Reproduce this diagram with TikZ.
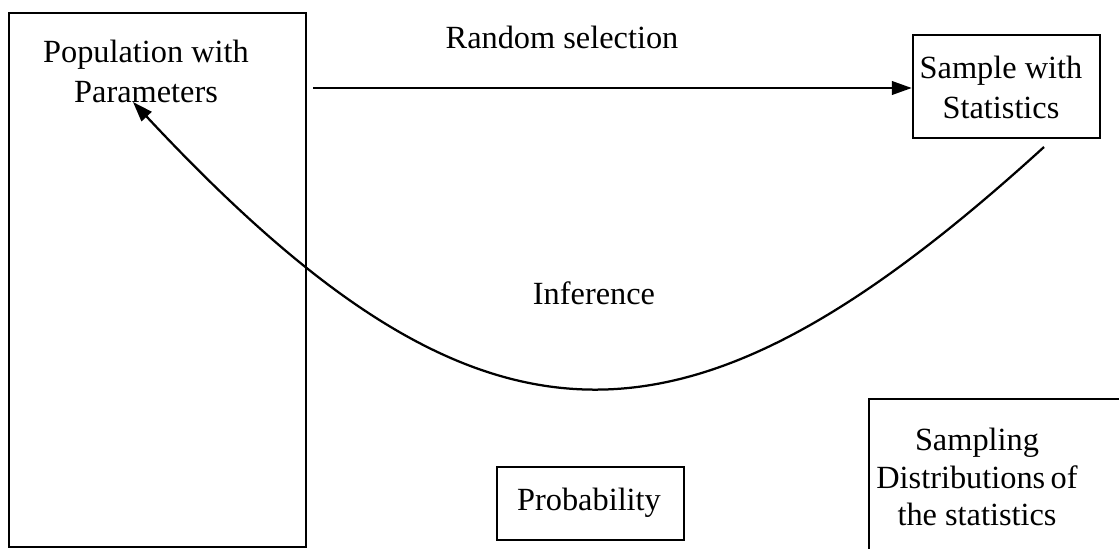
\documentclass[tikz,border=0pt]{standalone}
\usepackage{fontspec}
\setmainfont{Liberation Serif}
\usetikzlibrary{arrows.meta}
\tikzset{
  box/.style={draw,line width=1.7pt,inner sep=0pt},
  txt/.style={align=center,font=\fontsize{23}{28.5}\selectfont},
  link/.style={line width=1.6pt,-{Triangle[length=0.5cm,width=0.34cm]}}
}
\begin{document}
\begin{tikzpicture}[x=0.025cm,y=-0.025cm]
  \useasboundingbox (0,0) rectangle (1119,548);
  \clip (0,0) rectangle (1119,548);
  % Boxes
  \node[box,minimum width=7.425cm,minimum height=13.35cm] (pop) at (157.5,280) {};
  \node[box,minimum width=4.675cm,minimum height=2.575cm] (samp) at (1006.5,86.5) {};
  \node[box,minimum width=4.675cm,minimum height=1.825cm] (prob) at (590.5,503.5) {};
  \node[box,minimum width=7.5cm,minimum height=5cm,anchor=north west] (sdist) at (868,398) {};
  % Texts
  \node[txt] (poptext) at (146,71) {Population with\\Parameters};
  \node[txt] (samptext) at (1001,87) {Sample with\\Statistics};
  \node[txt] (probtext) at (589,503) {Probability};
  \node[txt,font=\fontsize{23}{26.5}\selectfont] (sdisttext) at (977,477) {Sampling\\Distributions\,of\\the statistics};
  \node[txt] (rand) at (562,37) {Random selection};
  \node[txt] (infer) at (594,293) {Inference};
  % Random selection
  \coordinate (rstart) at (313,88);
  \coordinate (rend) at (samp.west |- rstart);
  \draw[link] (rstart) -- (rend);
  % Inference
  \coordinate (istart) at (1044,147);
  \coordinate (iend) at (133,102);
  \draw[link] (istart) .. controls (685,474) and (483,477) .. (iend);
\end{tikzpicture}
\end{document}
